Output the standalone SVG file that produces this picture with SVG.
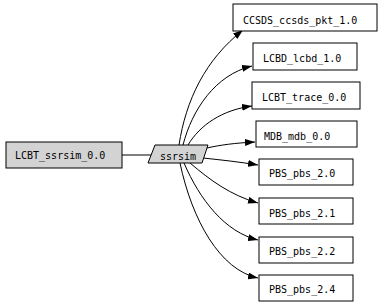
<svg xmlns="http://www.w3.org/2000/svg" width="384" height="305" viewBox="0 0 384 305">
<style>
.n{fill:#fff;stroke:#000;stroke-width:1}
.g{fill:#d3d3d3;stroke:#000;stroke-width:1}
.t{font-family:"DejaVu Sans Mono",monospace;font-size:10px;fill:#000}
.e{fill:none;stroke:#000;stroke-width:1}
</style>
<defs>
<marker id="a" viewBox="0 0 10 7" refX="10" refY="3.5" markerWidth="10" markerHeight="7" markerUnits="userSpaceOnUse" orient="auto">
<path d="M0,0 L10,3.5 L0,7 z" fill="#000"/>
</marker>
</defs>
<rect width="384" height="305" fill="#fff"/>
<g id="edges">
<path class="e" d="M122,155 L152,155"/>
<path class="e" marker-end="url(#a)" d="M179,145 C186,100 205,60 243,30"/>
<path class="e" marker-end="url(#a)" d="M183,145 C192,110 215,75 252,66"/>
<path class="e" marker-end="url(#a)" d="M188,145 C200,125 222,110 252,106"/>
<path class="e" marker-end="url(#a)" d="M207,148 C220,145 235,143 255,142"/>
<path class="e" marker-end="url(#a)" d="M203,158 C222,160 240,162 258,165"/>
<path class="e" marker-end="url(#a)" d="M190,163 C210,180 230,195 258,203"/>
<path class="e" marker-end="url(#a)" d="M184,163 C200,200 225,232 258,240"/>
<path class="e" marker-end="url(#a)" d="M180,163 C192,220 220,270 258,278"/>
</g>
<g id="LCBT_ssrsim"><rect class="g" x="6" y="142" width="116" height="26"/><text class="t" x="15" y="159">LCBT_ssrsim_0.0</text></g>
<g id="ssrsim"><polygon class="g" points="155,145 208,145 202,163 148,163"/><text class="t" x="160" y="160">ssrsim</text></g>
<g id="CCSDS"><rect class="n" x="233" y="4" width="144" height="27"/><text class="t" x="243" y="24">CCSDS_ccsds_pkt_1.0</text></g>
<g id="LCBD"><rect class="n" x="253" y="43" width="104" height="27"/><text class="t" x="263" y="62">LCBD_lcbd_1.0</text></g>
<g id="LCBT_trace"><rect class="n" x="252" y="82" width="108" height="27"/><text class="t" x="262" y="101">LCBT_trace_0.0</text></g>
<g id="MDB"><rect class="n" x="256" y="121" width="101" height="26"/><text class="t" x="264" y="140">MDB_mdb_0.0</text></g>
<g id="PBS20"><rect class="n" x="259" y="159" width="94" height="26"/><text class="t" x="269" y="177">PBS_pbs_2.0</text></g>
<g id="PBS21"><rect class="n" x="259" y="198" width="94" height="26"/><text class="t" x="269" y="217">PBS_pbs_2.1</text></g>
<g id="PBS22"><rect class="n" x="259" y="237" width="94" height="26"/><text class="t" x="269" y="255">PBS_pbs_2.2</text></g>
<g id="PBS24"><rect class="n" x="259" y="275" width="94" height="26"/><text class="t" x="269" y="293">PBS_pbs_2.4</text></g>
</svg>
